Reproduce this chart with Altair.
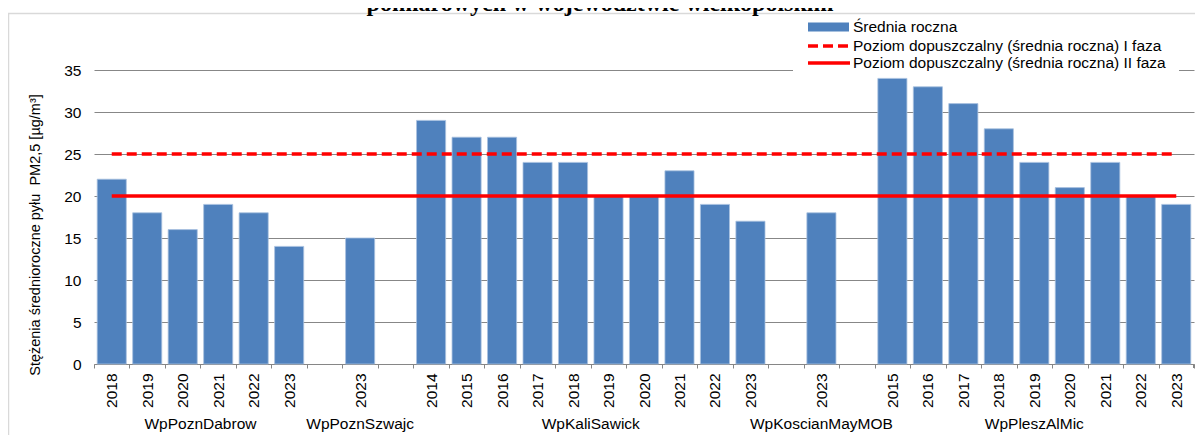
import altair as alt
import pandas as pd

# ---- data ----
stations = ["WpPoznDabrow", "WpPoznSzwajc", "WpKaliSawick", "WpKoscianMayMOB", "WpPleszAlMic"]
years_dabrow = ["2018", "2019", "2020", "2021", "2022", "2023"]
vals_dabrow = [22, 18, 16, 19, 18, 14]
years_szwajc = ["2023"]
vals_szwajc = [15]
years_kali = ["2014", "2015", "2016", "2017", "2018", "2019", "2020", "2021", "2022", "2023"]
vals_kali = [29, 27, 27, 24, 24, 20, 20, 23, 19, 17]
years_koscian = ["2023"]
vals_koscian = [18]
years_plesz = ["2015", "2016", "2017", "2018", "2019", "2020", "2021", "2022", "2023"]
vals_plesz = [34, 33, 31, 28, 24, 21, 24, 20, 19]

limit_I = 25
limit_II = 20
y_ticks = [0, 5, 10, 15, 20, 25, 30, 35]
legend_labels = [
    "Średnia roczna",
    "Poziom dopuszczalny (średnia roczna) I faza",
    "Poziom dopuszczalny (średnia roczna) II faza",
]
y_title = "Stężenia średnioroczne pyłu\u00a0 PM2,5 [µg/m³]"
title_text = "pomiarowych w województwie wielkopolskim"

# ---- build tables ----
groups = [
    (stations[0], years_dabrow, vals_dabrow),
    (stations[1], years_szwajc, vals_szwajc),
    (stations[2], years_kali, vals_kali),
    (stations[3], years_koscian, vals_koscian),
    (stations[4], years_plesz, vals_plesz),
]
slot_keys, bar_rows, grp_even, grp_odd = [], [], [], []
idx = 0
for gi, (st, yrs, vals) in enumerate(groups):
    if gi > 0:
        slot_keys.append(f"{idx:02d}|")
        idx += 1
    start = idx
    for yv, v in zip(yrs, vals):
        k = f"{idx:02d}|{yv}"
        slot_keys.append(k)
        bar_rows.append({"k": k, "value": v, "station": st})
        idx += 1
    n = len(yrs)
    row = {"k": slot_keys[start + n // 2], "station": st}
    (grp_even if n % 2 == 0 else grp_odd).append(row)

bars_df = pd.DataFrame(bar_rows)
lim1_df = pd.DataFrame({"k": [slot_keys[0], slot_keys[-1]], "v": [limit_I, limit_I]})
lim2_df = pd.DataFrame({"k": [slot_keys[0], slot_keys[-1]], "v": [limit_II, limit_II]})
one = pd.DataFrame({"a": [0]})

FONT = "Liberation Sans"
BLUE = "#4F81BD"
RED = "#FF0000"

xs = alt.Scale(domain=slot_keys, paddingInner=0, paddingOuter=0)
ys = alt.Scale(domain=[0, 35], nice=False, zero=True)

x_axis = alt.Axis(
    title=None, labelExpr="split(datum.label,'|')[1]", labelAngle=270,
    labelAlign="right", labelBaseline="middle", labelPadding=5, tickSize=4,
    tickBand="extent", domainColor="#868686", tickColor="#868686",
    labelFont=FONT, labelFontSize=15.5, labelColor="#000000", labelOverlap=False,
)
y_axis = alt.Axis(
    title=None, values=y_ticks, grid=True, gridColor="#878787", domain=False,
    ticks=False, labelPadding=13, labelFont=FONT, labelFontSize=15.5,
    labelColor="#000000",
)

bars = alt.Chart(bars_df).mark_bar(
    width=alt.RelativeBandSize(0.82), color=BLUE, stroke="#a9c1df", strokeWidth=0.8
).encode(
    x=alt.X("k:N", scale=xs, axis=x_axis),
    y=alt.Y("value:Q", scale=ys, axis=y_axis),
)

line1 = alt.Chart(lim1_df).mark_line(color=RED, strokeWidth=3.5, strokeDash=[10, 5]).encode(
    x=alt.X("k:N", scale=xs), y=alt.Y("v:Q", scale=ys)
)
line2 = alt.Chart(lim2_df).mark_line(color=RED, strokeWidth=3.5).encode(
    x=alt.X("k:N", scale=xs), y=alt.Y("v:Q", scale=ys)
)

grp_even_t = alt.Chart(pd.DataFrame(grp_even)).mark_text(
    font=FONT, fontSize=15.5, color="#000000", baseline="middle", align="center"
).encode(x=alt.X("k:N", scale=xs, bandPosition=0), y=alt.value(354), text="station:N")
grp_odd_t = alt.Chart(pd.DataFrame(grp_odd)).mark_text(
    font=FONT, fontSize=15.5, color="#000000", baseline="middle", align="center"
).encode(x=alt.X("k:N", scale=xs, bandPosition=0.5), y=alt.value(354), text="station:N")

ytitle = alt.Chart(one).mark_text(
    font=FONT, fontSize=14.5, color="#000000", angle=270, align="center", baseline="middle"
).encode(x=alt.value(-58), y=alt.value(165), text=alt.value(y_title))

# legend (decoration)
leg_box = alt.Chart(one).mark_rect(color="white").encode(
    x=alt.value(699), x2=alt.value(1085), y=alt.value(-53), y2=alt.value(3)
)
leg_bar = alt.Chart(one).mark_rect(color=BLUE).encode(
    x=alt.value(714), x2=alt.value(755), y=alt.value(-47.5), y2=alt.value(-38.5)
)
leg_l1 = alt.Chart(one).mark_rule(color=RED, strokeWidth=3.5, strokeDash=[10, 5]).encode(
    x=alt.value(714), x2=alt.value(756), y=alt.value(-24)
)
leg_l2 = alt.Chart(one).mark_rule(color=RED, strokeWidth=3.5).encode(
    x=alt.value(714), x2=alt.value(756), y=alt.value(-7)
)
leg_texts = [
    alt.Chart(one).mark_text(font=FONT, fontSize=15.5, color="#000000", align="left", baseline="middle").encode(
        x=alt.value(759), y=alt.value(yy), text=alt.value(lbl)
    )
    for lbl, yy in zip(legend_labels, [-43, -24, -7])
]

border = alt.Chart(one).mark_rect(filled=False, stroke="#d9d9d9", strokeWidth=1.5).encode(
    x=alt.value(-85.5), x2=alt.value(1130), y=alt.value(-56.5), y2=alt.value(440)
)
title = alt.Chart(one).mark_text(
    font="Liberation Serif", fontWeight="bold", fontSize=24, color="#000000",
    align="center", baseline="alphabetic"
).encode(x=alt.value(506), y=alt.value(-59), text=alt.value(title_text))

right_tick = alt.Chart(one).mark_rule(color="#868686").encode(
    x=alt.value(1099.5), y=alt.value(294), y2=alt.value(298)
)

chart = alt.layer(
    bars, line1, line2, grp_even_t, grp_odd_t, ytitle,
    leg_box, leg_bar, leg_l1, leg_l2, *leg_texts, border, title, right_tick,
).properties(
    width=1100, height=294,
    padding={"left": 86, "top": 62, "right": 1, "bottom": 71},
    autosize=alt.AutoSizeParams(type="none"),
).configure_view(strokeOpacity=0)

chart.save("out.html", embed_options={"renderer": "svg", "actions": False})
